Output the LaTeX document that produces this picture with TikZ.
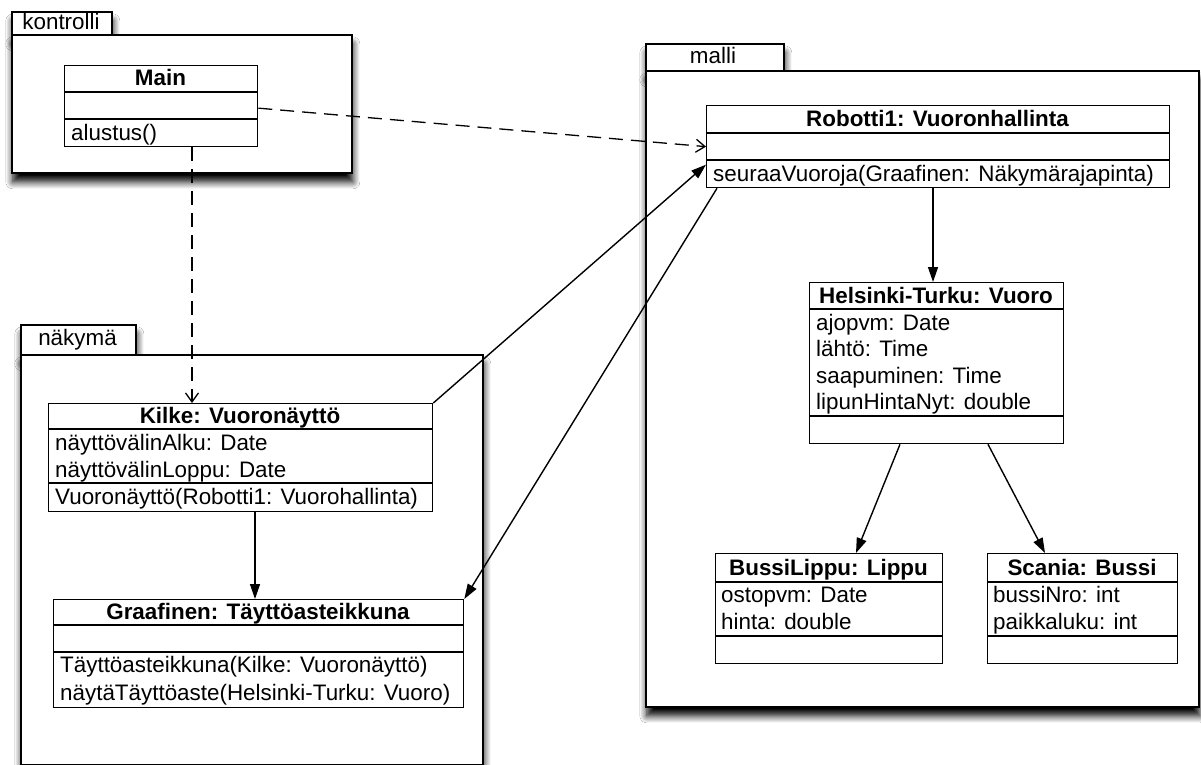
\documentclass[tikz,border=0pt]{standalone}
\usepackage{fontspec}
\setmainfont{Liberation Sans}
\usetikzlibrary{arrows.meta,calc,shadows.blur}
\begin{document}
\begin{tikzpicture}[x=1pt,y=-1pt,
  font=\fontsize{22.4}{26}\selectfont,
  pkg/.style={draw, line width=1.7pt, fill=white, inner sep=0pt, anchor=north west,
    blur shadow={shadow xshift=1pt, shadow yshift=-9pt, shadow blur radius=7pt, shadow opacity=100, shadow blur steps=8}},
  cls/.style={draw, line width=1.3pt, fill=white, inner sep=0pt, anchor=north west},
  hdr/.style={font=\fontsize{22.4}{26}\selectfont\bfseries, anchor=base, inner sep=0pt},
  txt/.style={anchor=base west, inner sep=0pt},
  plbl/.style={anchor=base, inner sep=0pt},
  divl/.style={line width=1.3pt},
  dep/.style={line width=1.3pt, dash pattern=on 14pt off 8pt, -{Straight Barb[length=9pt,width=13pt]}},
  assoc/.style={line width=1.4pt, -{Triangle[length=15pt,width=10pt]}}
]
\useasboundingbox[fill=white] (0,0) rectangle (1201,765);

% ---------- packages ----------
\node[pkg, minimum width=100pt, minimum height=23pt] (ktab) at (11,11) {};
\node[pkg, minimum width=340pt, minimum height=138pt] (kbody) at (11,34) {};
\node[plbl] (klbl) at (61,30) {kontrolli};

\node[pkg, minimum width=115pt, minimum height=30pt] (ntab) at (20,324) {};
\node[pkg, minimum width=462pt, minimum height=410pt] (nbody) at (20,354) {};
\node[plbl] (nlbl) at (77.5,345) {näkymä};

\node[pkg, minimum width=138pt, minimum height=27pt] (mtab) at (645,43) {};
\node[pkg, minimum width=553pt, minimum height=636pt] (mbody) at (645,70) {};
\node[plbl] (mlbl) at (713,64) {malli};

% ---------- Main ----------
\node[cls, minimum width=193pt, minimum height=81pt] (main) at (64,65) {};
\draw[divl] (64,92) -- (257,92);
\draw[divl] (64,119) -- (257,119);
\node[hdr] (mainh) at (160.5,86) {Main};
\node[txt] (mainm) at (71,140) {alustus()};

% ---------- Robotti ----------
\node[cls, minimum width=463pt, minimum height=82pt] (rob) at (706,105) {};
\draw[divl] (706,133) -- (1169,133);
\draw[divl] (706,160) -- (1169,160);
\node[hdr] (robh) at (937.5,127) {Robotti1: Vuoronhallinta};
\node[txt] (robm) at (713,181) {seuraaVuoroja(Graafinen: Näkymärajapinta)};

% ---------- Helsinki-Turku ----------
\node[cls, minimum width=254pt, minimum height=161pt] (hel) at (809,282) {};
\draw[divl] (809,309) -- (1063,309);
\draw[divl] (809,416) -- (1063,416);
\node[hdr] (helh) at (936,303) {Helsinki-Turku: Vuoro};
\node[txt] (hela1) at (816,330) {ajopvm: Date};
\node[txt] (hela2) at (816,356) {lähtö: Time};
\node[txt] (hela3) at (816,383) {saapuminen: Time};
\node[txt] (hela4) at (816,409) {lipunHintaNyt: double};

% ---------- BussiLippu ----------
\node[cls, minimum width=227pt, minimum height=110pt] (bussi) at (715,553) {};
\draw[divl] (715,582) -- (942,582);
\draw[divl] (715,636) -- (942,636);
\node[hdr] (bussih) at (828.5,575) {BussiLippu: Lippu};
\node[txt] (bussia1) at (721,602) {ostopvm: Date};
\node[txt] (bussia2) at (721,629) {hinta: double};

% ---------- Scania ----------
\node[cls, minimum width=190pt, minimum height=110pt] (scania) at (987,553) {};
\draw[divl] (987,582) -- (1177,582);
\draw[divl] (987,636) -- (1177,636);
\node[hdr] (scaniah) at (1082,575) {Scania: Bussi};
\node[txt] (scaniaa1) at (993,602) {bussiNro: int};
\node[txt] (scaniaa2) at (993,629) {paikkaluku: int};

% ---------- Kilke ----------
\node[cls, minimum width=384pt, minimum height=108pt] (kilke) at (48,403) {};
\draw[divl] (48,429) -- (432,429);
\draw[divl] (48,483) -- (432,483);
\node[hdr] (kilkeh) at (240,423) {Kilke: Vuoronäyttö};
\node[txt] (kilkea1) at (55,450) {näyttövälinAlku: Date};
\node[txt] (kilkea2) at (55,477) {näyttövälinLoppu: Date};
\node[txt] (kilkem) at (55,504) {Vuoronäyttö(Robotti1: Vuorohallinta)};

% ---------- Graafinen ----------
\node[cls, minimum width=410pt, minimum height=108pt] (graaf) at (53,599) {};
\draw[divl] (53,625) -- (463,625);
\draw[divl] (53,652) -- (463,652);
\node[hdr] (graafh) at (258,619) {Graafinen: Täyttöasteikkuna};
\node[txt] (graafm1) at (60,672) {Täyttöasteikkuna(Kilke: Vuoronäyttö)};
\node[txt] (graafm2) at (60,700) {näytäTäyttöaste(Helsinki-Turku: Vuoro)};

% ---------- connectors ----------
\draw[dep] ($(main.east)+(0,2)$) -- (rob.west);
\draw[dep] ($(main.south west)+(128,0)$) -- ($(kilke.north west)+(144,0)$);
\draw[assoc] (kilke.north east) -- ($(rob.west)+(0,18)$);
\draw[assoc] ($(rob.south west)+(11,0)$) -- (graaf.north east);
\draw[assoc] ($(rob.south west)+(227,0)$) -- ($(hel.north west)+(124,0)$);
\draw[assoc] ($(hel.south west)+(91,0)$) -- ($(bussi.north west)+(141,0)$);
\draw[assoc] ($(hel.south west)+(179,0)$) -- ($(scania.north west)+(58,0)$);
\draw[assoc] ($(kilke.south west)+(207,0)$) -- ($(graaf.north west)+(202,0)$);
\end{tikzpicture}
\end{document}
